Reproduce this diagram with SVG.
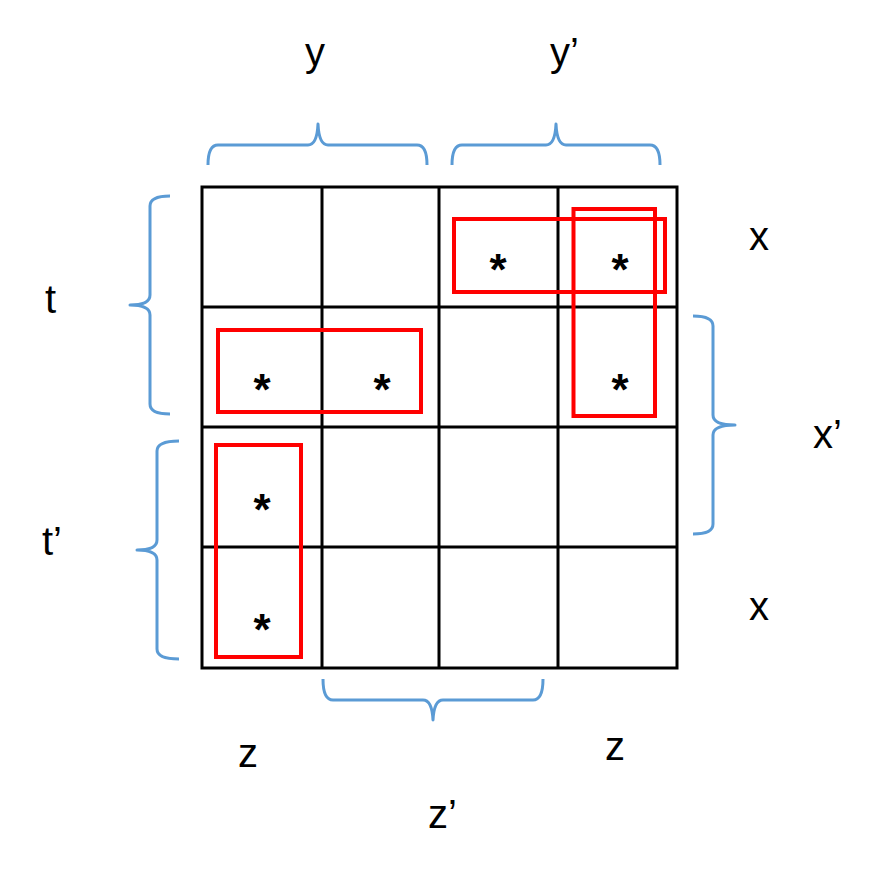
<svg xmlns="http://www.w3.org/2000/svg" width="890" height="875" viewBox="0 0 890 875">
<style>
.grid{fill:none;stroke:#000;stroke-width:3}
.brace{fill:none;stroke:#5B9BD5;stroke-width:3;stroke-linejoin:round}
.loop{fill:none;stroke:#FF0000;stroke-width:4}
.lbl{font-family:"Liberation Sans",Arial,sans-serif;font-size:40px;fill:#000}
.star{font-family:"Liberation Sans",Arial,sans-serif;font-size:44px;font-weight:bold;fill:#000;text-anchor:middle}
</style>
<rect width="890" height="875" fill="#fff"/>
<g id="grid">
<rect class="grid" x="202" y="187" width="475" height="481"/>
<path class="grid" d="M322,187V668M439,187V668M558,187V668M202,307H677M202,427H677M202,547H677"/>
</g>
<g id="braces">
<path id="brace-y" class="brace" d="M208,165 Q208,145 218,145 L308,145 Q317,145 318,124 Q319,145 328,145 L417,145 Q427,145 427,165"/>
<path id="brace-y2" class="brace" d="M452,165 Q452,145 462,145 L546,145 Q555,145 556,124 Q557,145 566,145 L650,145 Q660,145 660,165"/>
<path id="brace-t" class="brace" d="M170,196 Q150,196 150,206 L150,295 Q150,305 130,305 Q150,305 150,315 L150,404 Q150,414 170,414"/>
<path id="brace-t2" class="brace" d="M179,441 Q157,441 157,451 L157,540 Q157,550 137,550 Q157,550 157,560 L157,649 Q157,659 179,659"/>
<path id="brace-x2" class="brace" d="M693,316 Q713,316 713,326 L713,415 Q713,425 735,425 Q713,425 713,435 L713,524 Q713,534 693,534"/>
<path id="brace-z2" class="brace" d="M323,679 Q323,700 333,700 L423,700 Q432,700 433,720 Q434,700 443,700 L533,700 Q543,700 543,679"/>
</g>
<g id="loops">
<rect class="loop" x="454" y="219" width="211" height="73"/>
<rect class="loop" x="573.5" y="209" width="81.5" height="207"/>
<rect class="loop" x="218" y="330" width="203" height="82"/>
<rect class="loop" x="216" y="445" width="85" height="212"/>
</g>
<g id="cells">
<text class="star" x="498" y="285">*</text>
<text class="star" x="620" y="285">*</text>
<text class="star" x="262" y="405">*</text>
<text class="star" x="382" y="405">*</text>
<text class="star" x="620" y="405">*</text>
<text class="star" x="262" y="525">*</text>
<text class="star" x="262" y="645">*</text>
</g>
<g id="labels">
<text class="lbl" x="305" y="66">y</text>
<text class="lbl" x="550" y="66">y’</text>
<text class="lbl" x="749" y="250">x</text>
<text class="lbl" x="813" y="448">x’</text>
<text class="lbl" x="749" y="620">x</text>
<text class="lbl" x="45" y="313">t</text>
<text class="lbl" x="42" y="555">t’</text>
<text class="lbl" x="238" y="767">z</text>
<text class="lbl" x="605" y="760">z</text>
<text class="lbl" x="428" y="828">z’</text>
</g>
</svg>
